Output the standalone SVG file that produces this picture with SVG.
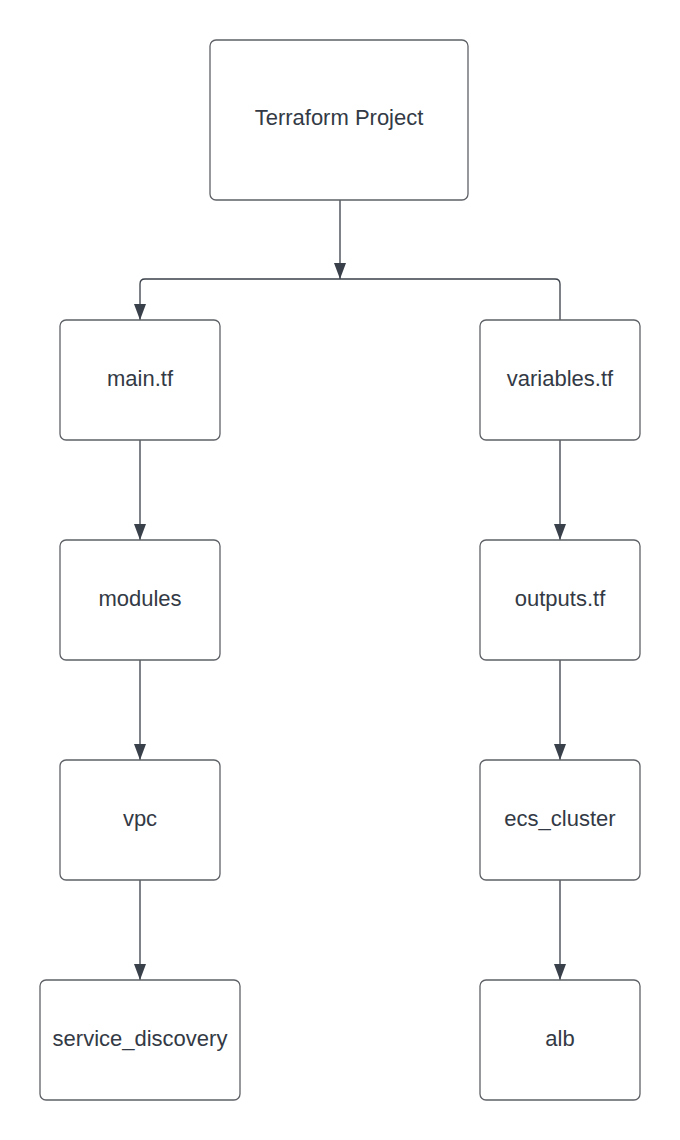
<svg xmlns="http://www.w3.org/2000/svg" width="680" height="1140" viewBox="0 0 680 1140">
<style>
.box{fill:#ffffff;stroke:#5e6166;stroke-width:1.3}
.lbl{font-family:"Liberation Sans",Arial,sans-serif;font-size:22px;fill:#333a45;text-anchor:middle}
.ln{fill:none;stroke:#3a4049;stroke-width:1.3}
</style>
<defs>
<marker id="arr" viewBox="0 0 16 12" refX="16" refY="6" markerWidth="16" markerHeight="12" markerUnits="userSpaceOnUse" orient="auto">
<path d="M0,0 L16,6 L0,12 Z" fill="#3a4049"/>
</marker>
</defs>
<rect width="680" height="1140" fill="#ffffff"/>
<g id="connectors">
<path class="ln" d="M340,200 V279" marker-end="url(#arr)"/>
<path class="ln" d="M560,320 V284 Q560,279 555,279 H145 Q140,279 140,284 V320" marker-end="url(#arr)"/>
<path class="ln" d="M140,440 V540" marker-end="url(#arr)"/>
<path class="ln" d="M560,440 V540" marker-end="url(#arr)"/>
<path class="ln" d="M140,660 V760" marker-end="url(#arr)"/>
<path class="ln" d="M560,660 V760" marker-end="url(#arr)"/>
<path class="ln" d="M140,880 V980" marker-end="url(#arr)"/>
<path class="ln" d="M560,880 V980" marker-end="url(#arr)"/>
</g>
<g id="terraform-project"><rect class="box" x="210" y="40" width="258" height="160" rx="6"/><text class="lbl" x="339" y="125">Terraform Project</text></g>
<g id="main-tf"><rect class="box" x="60" y="320" width="160" height="120" rx="6"/><text class="lbl" x="140" y="386">main.tf</text></g>
<g id="variables-tf"><rect class="box" x="480" y="320" width="160" height="120" rx="6"/><text class="lbl" x="560" y="386">variables.tf</text></g>
<g id="modules"><rect class="box" x="60" y="540" width="160" height="120" rx="6"/><text class="lbl" x="140" y="606">modules</text></g>
<g id="outputs-tf"><rect class="box" x="480" y="540" width="160" height="120" rx="6"/><text class="lbl" x="560" y="606">outputs.tf</text></g>
<g id="vpc"><rect class="box" x="60" y="760" width="160" height="120" rx="6"/><text class="lbl" x="140" y="826">vpc</text></g>
<g id="ecs-cluster"><rect class="box" x="480" y="760" width="160" height="120" rx="6"/><text class="lbl" x="560" y="826">ecs_cluster</text></g>
<g id="service-discovery"><rect class="box" x="40" y="980" width="200" height="120" rx="6"/><text class="lbl" x="140" y="1046">service_discovery</text></g>
<g id="alb"><rect class="box" x="480" y="980" width="160" height="120" rx="6"/><text class="lbl" x="560" y="1046">alb</text></g>
</svg>
